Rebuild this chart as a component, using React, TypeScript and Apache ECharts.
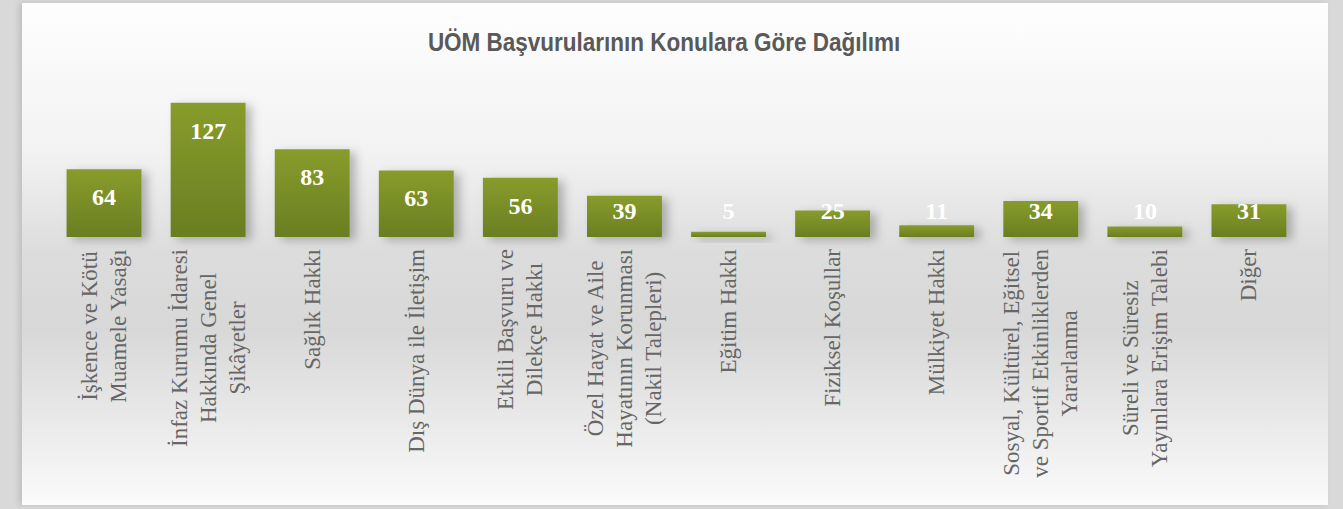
import React, { useEffect, useRef } from "react";
import * as echarts from "echarts";

const titleText = "UÖM Başvurularının Konulara Göre Dağılımı";

const categories = [
  "İşkence ve Kötü\nMuamele Yasağı",
  "İnfaz Kurumu İdaresi\nHakkında Genel\nŞikâyetler",
  "Sağlık Hakkı",
  "Dış Dünya ile İletişim",
  "Etkili Başvuru ve\nDilekçe Hakkı",
  "Özel Hayat ve Aile\nHayatının Korunması\n(Nakil Talepleri)",
  "Eğitim Hakkı",
  "Fiziksel Koşullar",
  "Mülkiyet Hakkı",
  "Sosyal, Kültürel, Eğitsel\nve Sportif Etkinliklerden\nYararlanma",
  "Süreli ve Süresiz\nYayınlara Erişim Talebi",
  "Diğer",
];

const values = [64, 127, 83, 63, 56, 39, 5, 25, 11, 34, 10, 31];

const yMax = 140;

export default function App() {
  const ref = useRef<HTMLDivElement>(null);

  useEffect(() => {
    if (!ref.current) return;
    const chart = echarts.init(ref.current, undefined, { renderer: "svg" });
    const serif = "'Liberation Serif', 'DejaVu Serif', serif";
    const labelColor = "#666666";
    chart.setOption({
      animation: false,
      backgroundColor: "transparent",
      graphic: [
        {
          type: "text",
          x: 642,
          y: 39,
          scaleX: 0.9,
          style: {
            text: titleText,
            textAlign: "center",
            textVerticalAlign: "middle",
            fontFamily: "'Liberation Sans', Arial, sans-serif",
            fontWeight: "bold",
            fontSize: 25,
            fill: "#595959",
          },
        },
      ],
      grid: { left: 30, right: 27, top: 86, bottom: 268, containLabel: false },
      xAxis: {
        type: "category",
        data: categories,
        axisLine: { show: false },
        axisTick: { show: false },
        splitLine: { show: false },
        axisLabel: {
          interval: 0,
          rotate: 90,
          margin: 12,
          color: labelColor,
          fontFamily: serif,
          fontSize: 23,
          lineHeight: 29,
          formatter: (v: string) =>
            v
              .split("\n")
              .map((l) => `{c|${l}}`)
              .join("\n"),
          rich: {
            c: {
              align: "center",
              color: labelColor,
              fontFamily: serif,
              fontSize: 23,
              lineHeight: 29,
            },
          },
        },
      },
      yAxis: {
        type: "value",
        min: 0,
        max: yMax,
        show: false,
        splitLine: { show: false },
      },
      series: [
        {
          type: "bar",
          barCategoryGap: "28%",
          data: values.map((v) => ({
            value: v,
            label:
              v >= 51
                ? { position: "insideTop", distance: 16 }
                : { position: "insideBottom", distance: 14 },
          })),
          itemStyle: {
            color: new echarts.graphic.LinearGradient(0, 0, 0, 1, [
              { offset: 0, color: "#889C2C" },
              { offset: 1, color: "#6A7E22" },
            ]),
            shadowColor: "rgba(0,0,0,0.25)",
            shadowBlur: 10,
            shadowOffsetX: 6,
            shadowOffsetY: 3,
          },
          label: {
            show: true,
            color: "#ffffff",
            fontFamily: serif,
            fontWeight: "bold",
            fontSize: 24,
          },
        },
      ],
    });
    return () => chart.dispose();
  }, []);

  return (
    <div
      style={{
        position: "fixed",
        left: 0,
        top: 0,
        width: 1343,
        height: 509,
        background: "#d9d9d9",
      }}
    >
      <div
        style={{
          position: "absolute",
          left: 22,
          top: 3,
          width: 1306,
          height: 502,
          background:
            "linear-gradient(to bottom, #fefefe 0%, #f2f2f2 30%, #dcdcdc 50%, #d8d8d8 65%, #e8e8e8 82%, #fbfbfb 100%)",
          boxShadow: "-3px 0 6px rgba(0,0,0,0.12)",
        }}
      >
        <div ref={ref} style={{ width: 1306, height: 502 }} />
      </div>
    </div>
  );
}
